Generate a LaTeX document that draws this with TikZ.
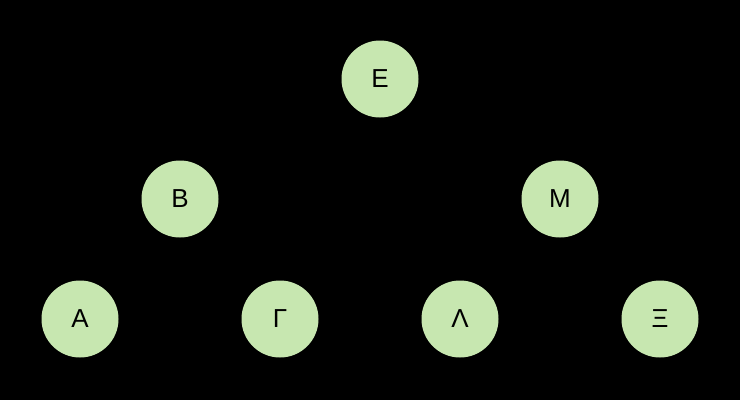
\documentclass[tikz,border=0pt]{standalone}
\usepackage{fontspec}
\setmainfont{Liberation Sans}
\definecolor{nodegreen}{RGB}{199,231,176}
\begin{document}
\begin{tikzpicture}[x=1pt,y=-1pt,
  treenode/.style={circle,fill=nodegreen,minimum size=77pt,inner sep=0pt,
    font=\fontsize{26}{30}\selectfont,text=black}]
\fill[black] (0,0) rectangle (740,400);
\useasboundingbox (0,0) rectangle (740,400);
\node[treenode] (E) at (380,79) {Ε};
\node[treenode] (B) at (180,199) {Β};
\node[treenode] (M) at (560,199) {Μ};
\node[treenode] (A) at (80,319) {Α};
\node[treenode] (G) at (280,319) {Γ};
\node[treenode] (L) at (460,319) {Λ};
\node[treenode] (X) at (660,319) {Ξ};
\end{tikzpicture}
\end{document}
